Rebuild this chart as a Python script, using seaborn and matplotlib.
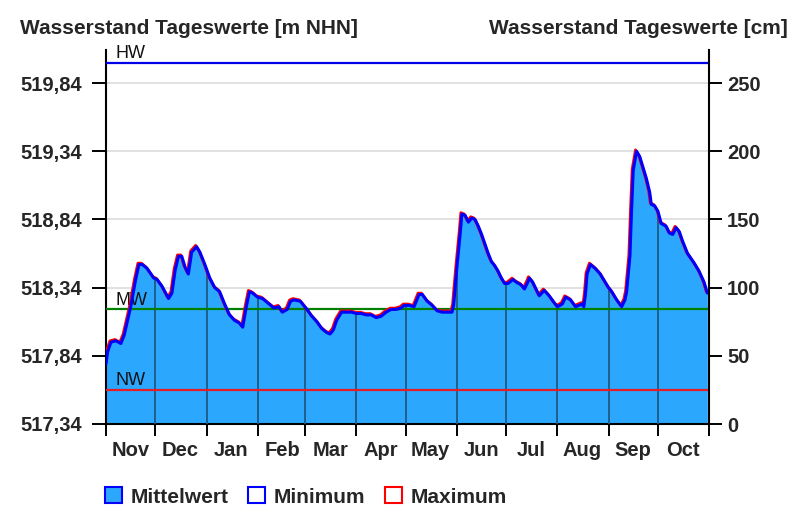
import numpy as np
import pandas as pd
import matplotlib
matplotlib.use('Agg')
import matplotlib.pyplot as plt
import matplotlib.dates as mdates
import matplotlib.transforms as mtransforms
from matplotlib.ticker import NullFormatter
from matplotlib.patches import Patch
import seaborn as sns

sns.set_style('white')
plt.rcParams['font.family'] = ['Liberation Sans', 'DejaVu Sans']
plt.rcParams['font.weight'] = 'bold'

# Water year Nov 2023 - Oct 2024
start = pd.Timestamp('2023-11-01')
end = pd.Timestamp('2024-11-01')

# day offset from 1 Nov and daily mean level in cm
day = [0, 1, 3, 6, 9, 11, 15, 18, 20, 22, 25, 29, 31, 34, 38, 40, 42, 44, 46, 48,
       50, 52, 55, 57, 60, 63, 66, 69, 72, 75, 78, 81, 83, 85, 87, 89, 92, 95, 98, 102,
       105, 107, 110, 112, 114, 118, 120, 122, 125, 128, 131, 134, 136, 138, 140, 143,
       146, 149, 152, 155, 158, 161, 164, 167, 170, 173, 176, 179, 181, 184, 187, 190,
       192, 195, 198, 201, 204, 207, 210, 211, 213, 215, 216, 218, 220, 222, 224, 226,
       228, 230, 232, 234, 236, 238, 240, 242, 244, 247, 249, 252, 254, 256, 257, 259,
       261, 263, 266, 269, 272, 274, 277, 279, 282, 285, 287, 289, 290, 291, 292, 294,
       297, 300, 303, 305, 307, 310, 313, 315, 316, 318, 319, 320, 322, 324, 326, 328,
       330, 331, 333, 335, 337, 340, 342, 344, 346, 348, 350, 353, 357, 360, 363, 365]
mittel = [44, 53, 60, 61, 59, 65, 86, 106, 117, 117, 114, 107, 106, 101, 92, 96, 113, 123, 123, 115,
          110, 126, 130, 126, 117, 107, 100, 97, 88, 80, 76, 74, 71, 85, 97, 96, 93, 92, 89, 85,
          86, 82, 84, 90, 91, 90, 87, 84, 79, 75, 70, 67, 66, 69, 76, 82,
          82, 82, 81, 81, 80, 80, 78, 79, 82, 84, 84, 85, 87, 87, 86, 95,
          95, 90, 87, 83, 82, 82, 82, 87, 115, 140, 154, 153, 148, 151, 150, 145,
          139, 132, 125, 119, 116, 112, 107, 103, 103, 106, 104, 102, 99, 104, 107, 104,
          99, 94, 98, 94, 89, 86, 88, 93, 91, 86, 87, 88, 86, 95, 110, 117,
          114, 110, 104, 100, 97, 91, 86, 91, 97, 123, 157, 186, 200, 196, 188, 180,
          170, 161, 160, 156, 147, 145, 140, 139, 144, 141, 134, 125, 118, 112, 104, 96]

# reference levels in cm
hw = 265
mw = 84
nw = 25

cm_ticks = [0, 50, 100, 150, 200, 250]
nhn_labels = ['517,34', '517,84', '518,34', '518,84', '519,34', '519,84']

df = pd.DataFrame({'datum': start + pd.to_timedelta(day, unit='D'), 'mittel': mittel})
# minimum and maximum coincide with the mean at this scale
df['minimum'] = df['mittel']
df['maximum'] = df['mittel']

fill_color = '#2ba8fd'

fig = plt.figure(figsize=(8, 5.21), dpi=100)
ax = fig.add_axes([106 / 800, 97 / 521, 603 / 800, 374.5 / 521])

fill = ax.fill_between(df['datum'], 0, df['mittel'], color=fill_color, lw=0, zorder=2)

# month separators, only visible inside the filled area
fill_path = fill.get_paths()[0]
for m in pd.date_range(start, end, freq='MS')[1:-1]:
    ln = ax.axvline(m, color='#1d5a85', lw=1.3, zorder=3)
    ln.set_clip_path(fill_path, fill.get_transform())

# reference lines
ax.axhline(hw, color='#0000e6', lw=1.6, zorder=4)
ax.axhline(mw, color='#008000', lw=1.6, zorder=4)
ax.axhline(nw, color='#e41e26', lw=1.6, zorder=4)
for name, lvl in [('HW', hw), ('MW', mw), ('NW', nw)]:
    ax.annotate(name, xy=(0, lvl), xycoords=('axes fraction', 'data'),
                xytext=(6.5, 0.3), textcoords='offset points',
                ha='left', va='bottom', fontsize=13, fontweight='normal', color='#111111')

# max (red) slightly behind min (blue)
sns.lineplot(data=df, x='datum', y='maximum', color='#ff0000', lw=2.1, ax=ax, zorder=5)
offset = mtransforms.ScaledTranslation(-0.7 / 72, 0.9 / 72, fig.dpi_scale_trans)
ax.lines[-1].set_transform(ax.transData + offset)
sns.lineplot(data=df, x='datum', y='minimum', color='#0000ff', lw=2.2, ax=ax, zorder=6)

ax.set_xlabel('')
ax.set_ylabel('')
ax.set_xlim(start, end)
ax.set_ylim(0, 274.6)

# x axis: ticks at month starts, labels mid-month
ax.xaxis.set_major_locator(mdates.MonthLocator())
ax.xaxis.set_major_formatter(NullFormatter())
ax.xaxis.set_minor_locator(mdates.MonthLocator(bymonthday=16))
ax.xaxis.set_minor_formatter(mdates.DateFormatter('%b'))
ax.tick_params(axis='x', which='major', length=8.6, width=1.4, direction='out', color='black', bottom=True)
ax.tick_params(axis='x', which='minor', length=0, pad=12.5, labelsize=14.5, bottom=True)

# left axis in m NHN
ax.set_yticks(cm_ticks)
ax.set_yticklabels(nhn_labels)
ax.tick_params(axis='y', length=10, width=1.4, direction='out', pad=7, labelsize=14.5, left=True, color='black')
ax.yaxis.grid(True, color='#dcdcdc', lw=1.2)
ax.xaxis.grid(False)
ax.set_axisbelow(True)

# right axis in cm
ax2 = ax.twinx()
ax2.set_ylim(ax.get_ylim())
ax2.set_yticks(cm_ticks)
ax2.set_yticklabels([str(v) for v in cm_ticks])
ax2.tick_params(axis='y', length=9.4, width=1.4, direction='out', pad=3.6, labelsize=14.5, right=True, color='black')
ax2.grid(False)

for a in (ax, ax2):
    for s in a.spines.values():
        s.set_linewidth(1.5)
        s.set_color('black')
    a.spines['top'].set_visible(False)
ax.spines['right'].set_visible(False)
ax2.spines['left'].set_visible(False)
ax2.spines['bottom'].set_visible(False)

fig.text(20 / 800, 1 - 28.5 / 521, 'Wasserstand Tageswerte [m NHN]', ha='left', va='center', fontsize=15)
fig.text(788 / 800, 1 - 28.5 / 521, 'Wasserstand Tageswerte [cm]', ha='right', va='center', fontsize=15)

handles = [Patch(facecolor=fill_color, edgecolor='#0000ff', lw=1.5),
           Patch(facecolor='white', edgecolor='#0000ff', lw=1.5),
           Patch(facecolor='white', edgecolor='#ff0000', lw=1.5)]
fig.legend(handles, ['Mittelwert', 'Minimum', 'Maximum'], loc='center left',
           bbox_to_anchor=(105 / 800, 1 - 497 / 521), ncol=3, frameon=False, fontsize=15,
           handlelength=0.82, handleheight=0.77, handletextpad=0.4, columnspacing=0.95,
           borderpad=0, borderaxespad=0)

fig.savefig('out.png', dpi=100)
